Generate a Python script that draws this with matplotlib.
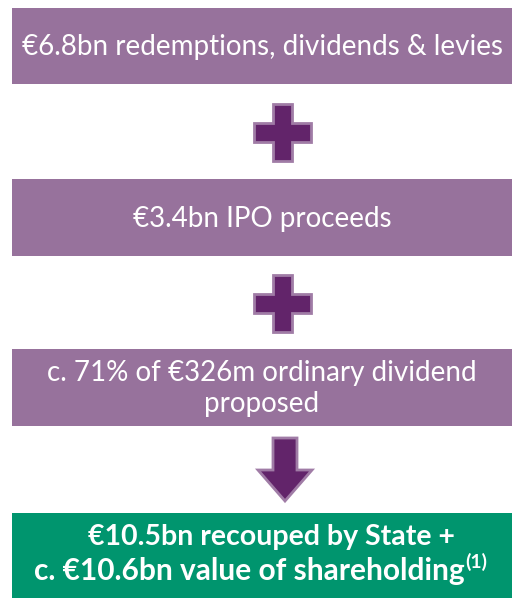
import matplotlib.pyplot as plt
from matplotlib.patches import Rectangle, Polygon

# flow chart texts
box_texts = [
    '€6.8bn redemptions, dividends & levies',
    '€3.4bn IPO proceeds',
    'c. 71% of €326m ordinary dividend\nproposed',
]
result_lines = ['€10.5bn recouped by State +', 'c. €10.6bn value of shareholding']
footnote = '(1)'

purple = '#97729c'
dark_purple = '#62246a'
light_edge = '#a07ca6'
green = '#00956e'

W, H = 512, 598
fig = plt.figure(figsize=(W / 100, H / 100), dpi=100)
ax = fig.add_axes([0, 0, 1, 1])
ax.set_xlim(0, W)
ax.set_ylim(H, 0)
ax.axis('off')

plt.rcParams['font.family'] = ['Lato', 'DejaVu Sans']

# purple boxes (top, bottom in pixels)
box_rows = [(8, 84), (179, 256), (349, 426)]
for (top, bot), txt in zip(box_rows, box_texts):
    ax.add_patch(Rectangle((12, top), W - 12, bot - top, facecolor=purple, edgecolor='none'))
    ax.text(262, (top + bot) / 2 + 1, txt, color='white', fontsize=20,
            ha='center', va='center', linespacing=1.25)

# plus signs
def plus(cx, cy):
    a, b = 28.5, 9.5  # half length, half thickness
    pts = [(cx - b, cy - a), (cx + b, cy - a), (cx + b, cy - b), (cx + a, cy - b),
           (cx + a, cy + b), (cx + b, cy + b), (cx + b, cy + a), (cx - b, cy + a),
           (cx - b, cy + b), (cx - a, cy + b), (cx - a, cy - b), (cx - b, cy - b)]
    ax.add_patch(Polygon(pts, closed=True, facecolor=dark_purple, edgecolor=light_edge, lw=2))

plus(282.5, 132.5)
plus(282.5, 303)

# down arrow
arrow = [(273, 438), (297, 438), (297, 470), (312, 470), (285, 501),
         (258, 470), (273, 470)]
ax.add_patch(Polygon(arrow, closed=True, facecolor=dark_purple, edgecolor=light_edge, lw=2))

# green result box
ax.add_patch(Rectangle((12, 513), W - 12, H - 513, facecolor=green, edgecolor='none'))
ax.text(271, 545, result_lines[0], color='white', fontsize=20.5, fontweight='bold',
        ha='center', va='baseline')
t2 = ax.text(249, 580, result_lines[1], color='white', fontsize=21.5, fontweight='bold',
             ha='center', va='baseline')
fig.canvas.draw()
bb = t2.get_window_extent()
x_end = ax.transData.inverted().transform((bb.x1, bb.y0))[0]
ax.text(x_end + 1, 568, footnote, color='white', fontsize=14, fontweight='bold',
        ha='left', va='baseline')

fig.savefig('out.png', dpi=100)
